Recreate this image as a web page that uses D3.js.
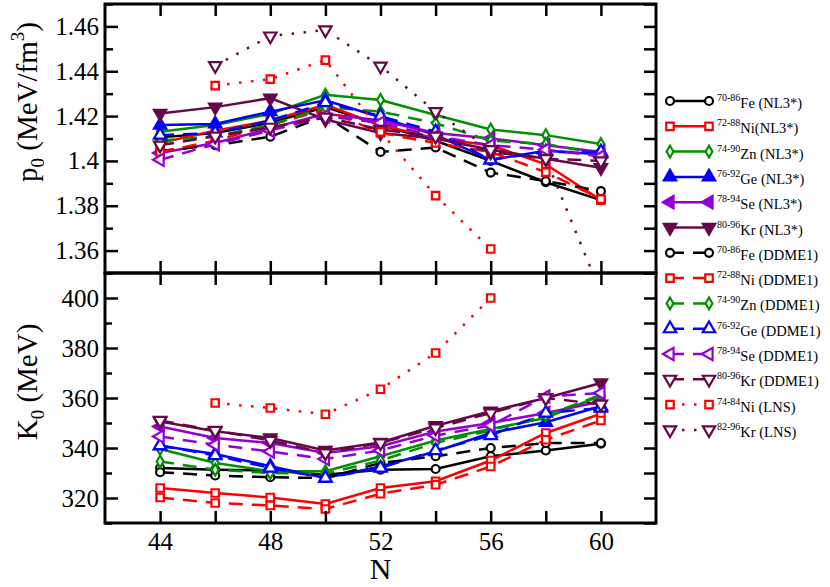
<!DOCTYPE html>
<html>
<head>
<meta charset="utf-8">
<script src="https://cdn.jsdelivr.net/npm/d3@7"></script>
<style>
  body { margin: 0; background: #fff; }
  svg text { font-family: 'Liberation Serif', 'Times New Roman', 'DejaVu Serif', serif; fill: #000; }
</style>
</head>
<body>
<div id="chart"></div>
<script>
// neutron number
const N = [44, 46, 48, 50, 52, 54, 56, 58, 60];
const niLNS_N = [46, 48, 50, 52, 54, 56];
const krLNS_N = [46, 48, 50, 52, 54, 56, 58, 60];

// p0 (MeV/fm^3)
const feNL3_p0 = [1.4105, 1.4125, 1.4170, 1.4240, 1.4160, 1.4090, 1.4000, 1.3905, 1.3825];
const niNL3_p0 = [1.4080, 1.4135, 1.4180, 1.4250, 1.4160, 1.4100, 1.4070, 1.3985, 1.3825];
const znNL3_p0 = [1.4130, 1.4160, 1.4210, 1.4295, 1.4272, 1.4205, 1.4140, 1.4115, 1.4075];
const geNL3_p0 = [1.4160, 1.4165, 1.4220, 1.4270, 1.4195, 1.4115, 1.4005, 1.4045, 1.4030];
const seNL3_p0 = [1.4035, 1.4080, 1.4145, 1.4210, 1.4180, 1.4125, 1.4100, 1.4070, 1.4040];
const krNL3_p0 = [1.4212, 1.4240, 1.4280, 1.4185, 1.4125, 1.4100, 1.4050, 1.4010, 1.3970];
const feDD_p0 = [1.4045, 1.4070, 1.4108, 1.4200, 1.4040, 1.4060, 1.3948, 1.3910, 1.3865];
const niDD_p0 = [1.4040, 1.4090, 1.4160, 1.4230, 1.4125, 1.4080, 1.4040, 1.3950, 1.3830];
const znDD_p0 = [1.4090, 1.4110, 1.4160, 1.4240, 1.4220, 1.4168, 1.4090, 1.4076, 1.4030];
const geDD_p0 = [1.4115, 1.4125, 1.4180, 1.4260, 1.4200, 1.4130, 1.4005, 1.4040, 1.4040];
const seDD_p0 = [1.4005, 1.4075, 1.4135, 1.4200, 1.4170, 1.4110, 1.4070, 1.4050, 1.4020];
const krDD_p0 = [1.4070, 1.4110, 1.4150, 1.4195, 1.4140, 1.4110, 1.4040, 1.4010, 1.4000];
const niLNS_p0 = [1.4336, 1.4365, 1.4450, 1.4130, 1.3845, 1.3607];
const krLNS_p0 = [1.4425, 1.4557, 1.4584, 1.4423, 1.4220, 1.4050, 1.4010, 1.3410];

// K0 (MeV)
const feNL3_K0 = [332.0, 331.3, 331.0, 329.3, 331.3, 331.6, 336.7, 339.0, 341.7];
const niNL3_K0 = [324.0, 322.0, 320.2, 317.6, 324.0, 326.7, 335.0, 346.0, 353.7];
const znNL3_K0 = [339.6, 334.0, 330.7, 330.7, 336.7, 343.0, 347.6, 352.0, 361.0];
const geNL3_K0 = [340.9, 337.6, 332.7, 328.0, 332.6, 338.6, 346.0, 350.3, 356.7];
const seNL3_K0 = [348.6, 344.0, 342.0, 338.0, 340.7, 346.6, 350.0, 354.0, 358.6];
const krNL3_K0 = [350.6, 346.7, 344.0, 339.0, 342.2, 348.9, 354.7, 360.0, 366.0];
const feDD_K0 = [330.3, 329.0, 328.3, 328.0, 334.0, 336.7, 340.0, 342.0, 342.0];
const niDD_K0 = [320.2, 318.0, 317.0, 315.6, 321.7, 325.3, 332.6, 343.3, 351.0];
const znDD_K0 = [334.6, 331.3, 330.0, 329.7, 335.0, 342.0, 347.0, 353.0, 361.3];
const geDD_K0 = [341.0, 337.0, 332.0, 328.0, 332.0, 339.0, 345.0, 354.0, 356.0];
const seDD_K0 = [344.6, 341.3, 338.6, 335.6, 339.0, 345.0, 349.0, 360.6, 362.0];
const krDD_K0 = [351.0, 347.0, 343.0, 338.0, 342.0, 348.0, 354.0, 360.0, 357.5];
const niLNS_K0 = [358.0, 356.0, 353.5, 363.5, 378.0, 400.0];

// legend texts
const massRanges = ['70-86', '72-88', '74-90', '76-92', '78-94', '80-96',
                    '70-86', '72-88', '74-90', '76-92', '78-94', '80-96', '74-84', '82-96'];
const seriesNames = ['Fe (NL3*)', 'Ni(NL3*)', 'Zn (NL3*)', 'Ge (NL3*)', 'Se (NL3*)', 'Kr (NL3*)',
                     'Fe (DDME1)', 'Ni (DDME1)', 'Zn (DDME1)', 'Ge (DDME1)', 'Se (DDME1)', 'Kr (DDME1)',
                     'Ni (LNS)', 'Kr (LNS)'];

const xTicks = [44, 46, 48, 50, 52, 54, 56, 58, 60];
const xLabels = [44, 48, 52, 56, 60];
const p0Major = [1.36, 1.38, 1.40, 1.42, 1.44, 1.46];
const p0Minor = [1.35, 1.37, 1.39, 1.41, 1.43, 1.45, 1.47];
const k0Major = [320, 340, 360, 380, 400];
const k0Minor = [310, 330, 350, 370, 390, 410];

// grace-like colours
const cFe = '#000000', cNi = '#ff0000', cZn = '#009000', cGe = '#0000ff', cSe = '#9400d3', cKr = '#670748';

const SOLID = null, DASH = '14,9', DOT = '2.5,9.5';
const SERIF = "'Liberation Serif', 'Times New Roman', 'DejaVu Serif', serif";

const series = [
    { n: N, p0: feNL3_p0, k0: feNL3_K0, color: cFe, shape: 'circle', dash: SOLID, fill: false },
    { n: N, p0: niNL3_p0, k0: niNL3_K0, color: cNi, shape: 'square', dash: SOLID, fill: false },
    { n: N, p0: znNL3_p0, k0: znNL3_K0, color: cZn, shape: 'diamond', dash: SOLID, fill: false },
    { n: N, p0: geNL3_p0, k0: geNL3_K0, color: cGe, shape: 'up', dash: SOLID, fill: true },
    { n: N, p0: seNL3_p0, k0: seNL3_K0, color: cSe, shape: 'left', dash: SOLID, fill: true },
    { n: N, p0: krNL3_p0, k0: krNL3_K0, color: cKr, shape: 'down', dash: SOLID, fill: true },
    { n: N, p0: feDD_p0, k0: feDD_K0, color: cFe, shape: 'circle', dash: DASH, fill: false },
    { n: N, p0: niDD_p0, k0: niDD_K0, color: cNi, shape: 'square', dash: DASH, fill: false },
    { n: N, p0: znDD_p0, k0: znDD_K0, color: cZn, shape: 'diamond', dash: DASH, fill: false },
    { n: N, p0: geDD_p0, k0: geDD_K0, color: cGe, shape: 'up', dash: DASH, fill: false },
    { n: N, p0: seDD_p0, k0: seDD_K0, color: cSe, shape: 'left', dash: DASH, fill: false },
    { n: N, p0: krDD_p0, k0: krDD_K0, color: cKr, shape: 'down', dash: DASH, fill: false },
    { n: niLNS_N, p0: niLNS_p0, k0: niLNS_K0, color: cNi, shape: 'square', dash: DOT, fill: false },
    { n: krLNS_N, p0: krLNS_p0, k0: null, color: cKr, shape: 'down', dash: DOT, fill: false }
];

const width = 830, height = 587;
const plotLeft = 105, plotRight = 656, plotTop = 4, plotMid = 273, plotBottom = 523;

const svg = d3.select('#chart')
    .append('svg')
    .attr('width', width)
    .attr('height', height)
    .attr('font-family', SERIF);

const x = d3.scaleLinear().domain([42, 62]).range([plotLeft, plotRight]);
const yTop = d3.scaleLinear().domain([1.35, 1.47]).range([plotMid, plotTop]);
const yBot = d3.scaleLinear().domain([310, 410]).range([plotBottom, plotMid]);

const symbolFor = {
    circle: { type: d3.symbolCircle, size: 50, rot: 0 },
    square: { type: d3.symbolSquare, size: 56, rot: 0 },
    diamond: { type: d3.symbolDiamond, size: 40, rot: 0 },
    up: { type: d3.symbolTriangle, size: 66, rot: 0 },
    left: { type: d3.symbolTriangle, size: 66, rot: -90 },
    down: { type: d3.symbolTriangle, size: 66, rot: 180 }
};

function drawMarker(g, s, cx, cy) {
    const sym = symbolFor[s.shape];
    g.append('path')
        .attr('d', d3.symbol().type(sym.type).size(sym.size)())
        .attr('transform', 'translate(' + cx + ',' + cy + ') rotate(' + sym.rot + ')')
        .attr('fill', s.fill ? s.color : '#fff')
        .attr('stroke', s.color)
        .attr('stroke-width', 2.2);
}

// clip paths for both panels
const defs = svg.append('defs');
defs.append('clipPath').attr('id', 'clipTop')
    .append('rect').attr('x', plotLeft).attr('y', plotTop)
    .attr('width', plotRight - plotLeft).attr('height', plotMid - plotTop);
defs.append('clipPath').attr('id', 'clipBot')
    .append('rect').attr('x', plotLeft).attr('y', plotMid)
    .attr('width', plotRight - plotLeft).attr('height', plotBottom - plotMid);

function drawPanel(key, y, clipId) {
    const g = svg.append('g').attr('clip-path', 'url(#' + clipId + ')');
    series.forEach(function (s) {
        if (!s[key]) return;
        const pts = s.n.map((n, i) => [n, s[key][i]]);
        g.append('path')
            .datum(pts)
            .attr('fill', 'none')
            .attr('stroke', s.color)
            .attr('stroke-width', 2.5)
            .attr('stroke-dasharray', s.dash)
            .attr('d', d3.line().x(d => x(d[0])).y(d => y(d[1])));
        pts.forEach(d => drawMarker(g, s, x(d[0]), y(d[1])));
    });
}

drawPanel('p0', yTop, 'clipTop');
drawPanel('k0', yBot, 'clipBot');

// axes: ticks point inward on every side, empty labels are dropped
function styleAxis(sel) {
    sel.attr('font-family', SERIF).attr('font-size', 25);
    sel.select('.domain').remove();
    sel.selectAll('line').attr('stroke', '#000').attr('stroke-width', 2.5);
    sel.selectAll('text').filter(function () { return this.textContent === ''; }).remove();
}

// x ticks
svg.append('g').attr('transform', 'translate(0,' + plotTop + ')')
    .call(d3.axisTop(x).tickValues(xTicks).tickSize(-12).tickFormat('')).call(styleAxis);
svg.append('g').attr('transform', 'translate(0,' + plotMid + ')')
    .call(d3.axisBottom(x).tickValues(xTicks).tickSize(-12).tickFormat('')).call(styleAxis);
svg.append('g').attr('transform', 'translate(0,' + plotMid + ')')
    .call(d3.axisTop(x).tickValues(xTicks).tickSize(-12).tickFormat('')).call(styleAxis);
svg.append('g').attr('transform', 'translate(0,' + plotBottom + ')')
    .call(d3.axisBottom(x).tickValues(xTicks).tickSize(-12).tickPadding(9)
        .tickFormat(d => xLabels.includes(d) ? d : '')).call(styleAxis);

// y ticks, top panel
svg.append('g').attr('transform', 'translate(' + plotLeft + ',0)')
    .call(d3.axisLeft(yTop).tickValues(p0Major).tickSize(-13).tickPadding(6)
        .tickFormat(d => String(+d.toFixed(2)))).call(styleAxis);
svg.append('g').attr('transform', 'translate(' + plotLeft + ',0)')
    .call(d3.axisLeft(yTop).tickValues(p0Minor).tickSize(-8).tickFormat('')).call(styleAxis);
svg.append('g').attr('transform', 'translate(' + plotRight + ',0)')
    .call(d3.axisRight(yTop).tickValues(p0Major.concat(p0Minor)).tickSize(-12).tickFormat('')).call(styleAxis);

// y ticks, bottom panel
svg.append('g').attr('transform', 'translate(' + plotLeft + ',0)')
    .call(d3.axisLeft(yBot).tickValues(k0Major).tickSize(-13).tickPadding(6)).call(styleAxis);
svg.append('g').attr('transform', 'translate(' + plotLeft + ',0)')
    .call(d3.axisLeft(yBot).tickValues(k0Minor).tickSize(-7).tickFormat('')).call(styleAxis);
svg.append('g').attr('transform', 'translate(' + plotRight + ',0)')
    .call(d3.axisRight(yBot).tickValues(k0Major.concat(k0Minor)).tickSize(-12).tickFormat('')).call(styleAxis);

// frames
[[plotTop, plotMid], [plotMid, plotBottom]].forEach(function (p) {
    svg.append('rect')
        .attr('x', plotLeft).attr('y', p[0])
        .attr('width', plotRight - plotLeft).attr('height', p[1] - p[0])
        .attr('fill', 'none').attr('stroke', '#000').attr('stroke-width', 3);
});

// axis titles
const pLabel = svg.append('text')
    .attr('transform', 'translate(37,102) rotate(-90)')
    .attr('text-anchor', 'middle')
    .attr('font-size', 29);
pLabel.append('tspan').text('p');
pLabel.append('tspan').attr('dy', 7).attr('font-size', 19).text('0');
pLabel.append('tspan').attr('dy', -7).text(' (MeV/fm');
pLabel.append('tspan').attr('dy', -13).attr('font-size', 19).text('3');
pLabel.append('tspan').attr('dy', 13).text(')');

const kLabel = svg.append('text')
    .attr('transform', 'translate(37,382) rotate(-90)')
    .attr('text-anchor', 'middle')
    .attr('font-size', 29);
kLabel.append('tspan').text('K');
kLabel.append('tspan').attr('dy', 7).attr('font-size', 19).text('0');
kLabel.append('tspan').attr('dy', -7).text(' (MeV)');

svg.append('text')
    .attr('x', x(52)).attr('y', 579)
    .attr('text-anchor', 'middle')
    .attr('font-size', 30)
    .text('N');

// legend
const legend = svg.append('g');
series.forEach(function (s, i) {
    const row = legend.append('g').attr('transform', 'translate(0,' + (101 + i * 25.3) + ')');
    row.append('line')
        .attr('x1', 670).attr('x2', 709).attr('y1', 0).attr('y2', 0)
        .attr('stroke', s.color).attr('stroke-width', 2.5)
        .attr('stroke-dasharray', s.dash);
    drawMarker(row, s, 670, 0);
    drawMarker(row, s, 709, 0);
    const t = row.append('text').attr('x', 717).attr('y', 7).attr('font-size', 14.5);
    t.append('tspan').attr('dy', -7).attr('font-size', 10).text(massRanges[i]);
    t.append('tspan').attr('dy', 7).text(seriesNames[i]);
});
</script>
</body>
</html>
